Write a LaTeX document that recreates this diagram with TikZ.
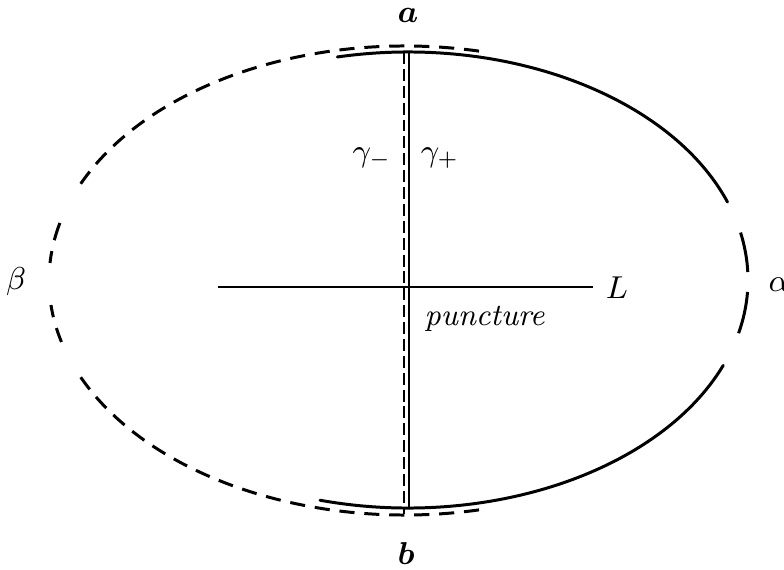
\documentclass[tikz,border=0pt]{standalone}
\usepackage{amsmath,amssymb}
\begin{document}
\begin{tikzpicture}[x=0.01cm,y=0.01cm,
  curve/.style={line width=0.85pt,line cap=round},
  dcurve/.style={line width=0.85pt,dash pattern=on 4.3pt off 2.8pt},
  dseg/.style={line width=0.85pt},
  cut/.style={line width=0.75pt},
  dcut/.style={line width=0.65pt,dash pattern=on 3.4pt off 1.4pt},
  lline/.style={line width=0.6pt},
  lab/.style={font=\fontsize{8.8}{10}\selectfont,inner sep=0pt}]
\useasboundingbox (0,0) rectangle (784,569);
% solid right half
\draw[curve] (408,289) ++(102:340 and 228) arc[start angle=102,end angle=20,x radius=340,y radius=228];
\draw[curve] (408,289) ++(-22:340 and 228) arc[start angle=-22,end angle=-105,x radius=340,y radius=228];
\draw[dseg] (408,289) ++(12:340 and 228) arc[start angle=12,end angle=2,x radius=340,y radius=228];
\draw[dseg] (408,289) ++(-3:340 and 228) arc[start angle=-3,end angle=-13.5,x radius=340,y radius=228];
% dashed left half
\draw[dcurve] (405,288.5) ++(78:356 and 234.5) arc[start angle=78,end angle=157.3,x radius=356,y radius=234.5];
\draw[dcurve] (405,288.5) ++(282:356 and 234.5) arc[start angle=282,end angle=204.3,x radius=356,y radius=234.5];
\foreach \s/\e in {165.8/170.1,172.8/175.7,186/189,191.7/195.2}
  \draw[dseg] (405,288.5) ++(\s:356 and 234.5) arc[start angle=\s,end angle=\e,x radius=356,y radius=234.5];
% cuts
\coordinate (ct) at (409,517);
\coordinate (cb) at (409,61);
\coordinate (dt) at (404,517);
\coordinate (db) at (404,55);
\draw[cut] (ct) -- (cb);
\draw[dcut] (dt) -- (db);
\coordinate (l1) at (218,282);
\coordinate (l2) at (593,282);
\draw[lline] (l1) -- (l2);
% labels
\node[lab] (a) at (408,554) {$\boldsymbol{a}$};
\node[lab] (b) at (406,15) {$\boldsymbol{b}$};
\node[lab] (beta) at (16,287) {$\beta$};
\node[lab] (alpha) at (779,284) {$\alpha$};
\node[lab] (L) at (617,281) {$L$};
\node[lab,anchor=base west] (punct) at (424,244) {\textit{puncture}};
\node[lab] (gm) at (372,411) {$\gamma_-$};
\node[lab] (gp) at (440,411) {$\gamma_+$};
\end{tikzpicture}
\end{document}
